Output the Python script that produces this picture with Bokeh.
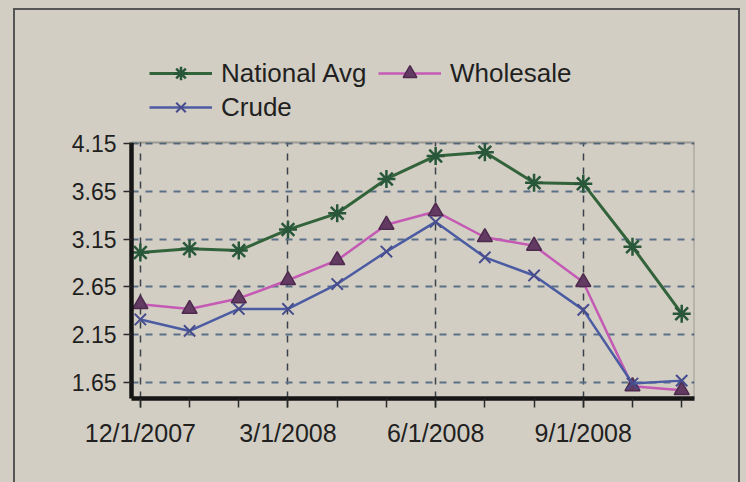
from bokeh.plotting import figure
from bokeh.models import Range1d, FixedTicker, Legend, LegendItem, BoxAnnotation
from bokeh.embed import file_html
from bokeh.resources import INLINE

# ---- data ----
months = list(range(12))  # Dec 2007 .. Nov 2008
x_major = [0, 3, 6, 9]
x_tick_labels = ["12/1/2007", "3/1/2008", "6/1/2008", "9/1/2008"]
y_ticks = [1.65, 2.15, 2.65, 3.15, 3.65, 4.15]

national_avg = [3.01, 3.05, 3.03, 3.25, 3.42, 3.78, 4.02, 4.06, 3.74, 3.73, 3.07, 2.37]
wholesale = [2.47, 2.42, 2.53, 2.72, 2.93, 3.30, 3.44, 3.17, 3.08, 2.70, 1.61, 1.57]
crude = [2.31, 2.19, 2.42, 2.42, 2.68, 3.02, 3.33, 2.96, 2.77, 2.41, 1.64, 1.67]

# plot box limits (value axis) and the extra head-room that holds the legend
X_MIN, X_MAX = -0.18, 11.26
Y_MIN, Y_BOX_TOP, Y_FRAME_TOP = 1.483, 4.16, 5.228

PAPER = "#d2cec4"
INK = "#221f1f"
FONT = "Liberation Sans"

p = figure(width=746, height=482, output_backend="svg", toolbar_location=None,
           x_range=Range1d(X_MIN, X_MAX), y_range=Range1d(Y_MIN, Y_FRAME_TOP),
           min_border_left=131, min_border_right=52, min_border_top=40,
           min_border_bottom=84)
p.background_fill_color = PAPER
p.border_fill_color = PAPER
p.outline_line_color = None

# axes
p.xaxis.ticker = FixedTicker(ticks=x_major, minor_ticks=months)
p.xaxis.major_label_overrides = {m: t for m, t in zip(x_major, x_tick_labels)}
p.yaxis.ticker = FixedTicker(ticks=y_ticks, minor_ticks=[])
p.yaxis.bounds = (Y_MIN, Y_BOX_TOP)
for ax in (p.xaxis[0], p.yaxis[0]):
    ax.axis_line_color = "#141414"
    ax.axis_line_width = 4.5
    ax.major_tick_line_color = "#2a2a2a"
    ax.major_tick_line_width = 1.5
    ax.minor_tick_line_color = "#2a2a2a"
    ax.minor_tick_line_width = 1.5
    ax.major_label_text_font = FONT
    ax.major_label_text_color = INK
p.yaxis.major_label_text_font_size = "23px"
p.xaxis.major_label_text_font_size = "25px"
p.xaxis.major_tick_in = 0
p.xaxis.major_tick_out = 9
p.xaxis.minor_tick_in = 0
p.xaxis.minor_tick_out = 9
p.xaxis.major_label_standoff = 11
p.yaxis.major_tick_in = 0
p.yaxis.major_tick_out = 8
p.yaxis.major_label_standoff = 7

p.xgrid.ticker = FixedTicker(ticks=x_major)
p.xgrid.grid_line_color = "#3a404c"
p.xgrid.grid_line_dash = "7 7"
p.xgrid.grid_line_width = 1.5
p.ygrid.ticker = FixedTicker(ticks=y_ticks)
p.ygrid.grid_line_color = "#5a7086"
p.ygrid.grid_line_dash = "7 7"
p.ygrid.grid_line_width = 1.8

# series
na_line = p.line(months, national_avg, line_color="#33633a", line_width=3)
na_pts = p.scatter(months, national_avg, marker="asterisk", size=18,
                   line_color="#28573a", line_width=2.5)
wh_line = p.line(months, wholesale, line_color="#c45ab4", line_width=2.5)
wh_pts = p.scatter(months, wholesale, marker="triangle", size=15,
                   fill_color="#623a62", line_color="#4e2a4e", line_width=1.5)
cr_line = p.line(months, crude, line_color="#4c5ca2", line_width=2.5)
cr_pts = p.scatter(months, crude, marker="x", size=16,
                   line_color="#474c8c", line_width=2)

# hide grid above the plot box (legend area), then draw the plot box
p.add_layout(BoxAnnotation(left=X_MIN, right=X_MAX, bottom=Y_BOX_TOP, top=Y_FRAME_TOP,
                           fill_color=PAPER, fill_alpha=1, line_alpha=0))
p.add_layout(BoxAnnotation(left=X_MIN, right=X_MAX, bottom=Y_MIN, top=Y_BOX_TOP,
                           fill_alpha=0, line_color="#222222", line_width=2))

legend = Legend(items=[
    LegendItem(label="National Avg", renderers=[na_line, na_pts]),
    LegendItem(label="Wholesale", renderers=[wh_line, wh_pts]),
    LegendItem(label="Crude", renderers=[cr_line, cr_pts]),
], location=(18, 274), orientation="horizontal", ncols=2)
legend.background_fill_alpha = 0
legend.border_line_alpha = 0
legend.padding = 0
legend.margin = 0
legend.spacing = 0
legend.glyph_width = 63
legend.glyph_height = 34
legend.label_standoff = 9
legend.label_width = 157
legend.label_text_font = FONT
legend.label_text_font_size = "26px"
legend.label_text_color = INK
p.add_layout(legend, "center")

html = file_html(p, INLINE)
frame_div = ('<div style="position:absolute;left:13px;top:8px;width:723px;height:490px;'
             'border-left:2px solid #555;border-top:2px solid #555;border-right:2px solid #555;'
             'pointer-events:none;z-index:5"></div>')
html = html.replace("<head>", "<head><style>body{background:%s;}</style>" % PAPER, 1)
html = html.replace("</body>", frame_div + "</body>", 1)
open("out.html", "w").write(html)
